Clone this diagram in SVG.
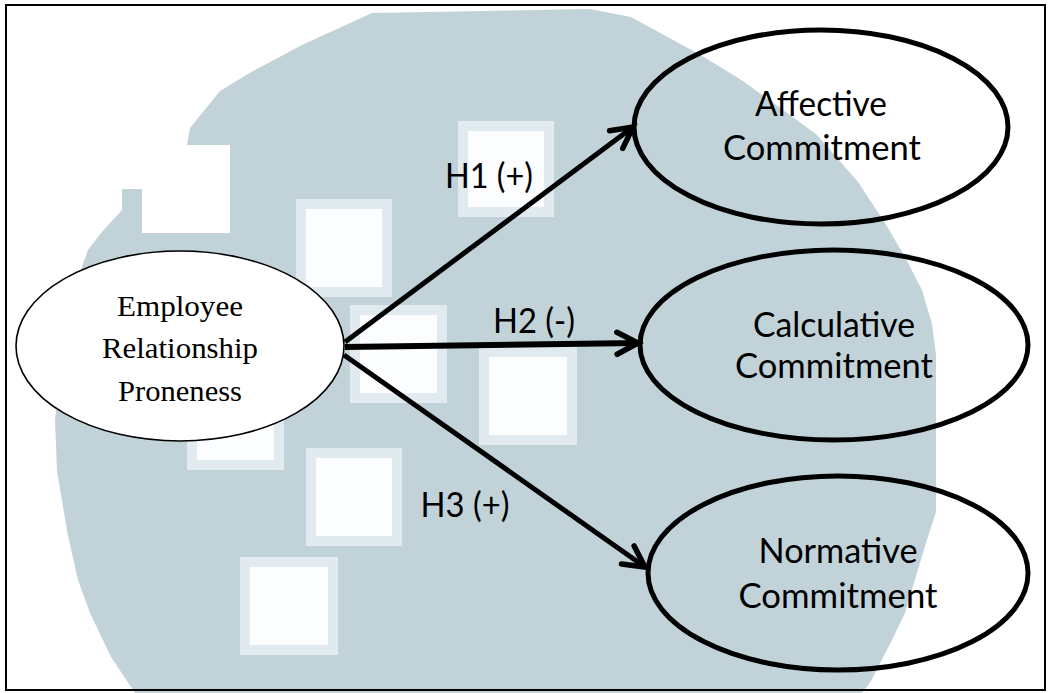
<svg xmlns="http://www.w3.org/2000/svg" width="1049" height="693" viewBox="0 0 1049 693">
  <style>
    .sq-out { fill: #e1eaee; }
    .sq-in { fill: #fbfdfe; }
    .node { fill: none; stroke: #000; stroke-width: 5; }
    .lbl { font-family: Lato, "Open Sans", sans-serif; font-size: 34px; fill: #000; text-anchor: middle; }
    .serif { font-family: "Liberation Serif", "Times New Roman", serif; font-size: 30px; fill: #000; text-anchor: middle; }
    .edge { fill: none; stroke: #000; stroke-width: 5; marker-end: url(#arr); }
  </style>
  <defs>
    <marker id="arr" markerUnits="userSpaceOnUse" markerWidth="40" markerHeight="40" viewBox="-30 -20 40 40" refX="0" refY="0" orient="auto">
      <path d="M-21,-11 L0,0 L-21,11" fill="none" stroke="#000" stroke-width="5.5" stroke-linecap="round" stroke-linejoin="miter"/>
    </marker>
  </defs>
  <rect x="0" y="0" width="1049" height="693" fill="#ffffff"/>
  <g id="watermark">
    <polygon fill="#c1d3d9" points="372,13 590,9 631,17 662,34 699,54 743,81 790,115 817,135 858,182 885,223 905,257 922,290 932,324 936,355 936,512 925,546 905,613 892,640 871,681 862,693 135,693 111,657 90,613 78,580 68,536 57,471 55,420 70,300 88,250 101,233 122,210 122,189 142,189 142,233 230,233 230,145 187,145 190,128 220,91 253,71 304,44"/>
    <rect class="sq-out" x="296" y="199" width="96" height="98"/>
    <rect class="sq-in" x="306" y="209" width="76" height="78"/>
    <rect class="sq-out" x="458" y="121" width="96" height="96"/>
    <rect class="sq-in" x="468" y="131" width="76" height="76"/>
    <rect class="sq-out" x="350" y="305" width="97" height="98"/>
    <rect class="sq-in" x="360" y="315" width="77" height="78"/>
    <rect class="sq-out" x="479" y="347" width="98" height="98"/>
    <rect class="sq-in" x="489" y="357" width="78" height="78"/>
    <rect class="sq-out" x="306" y="448" width="96" height="98"/>
    <rect class="sq-in" x="316" y="458" width="76" height="78"/>
    <rect class="sq-out" x="187" y="373" width="97" height="97"/>
    <rect class="sq-in" x="197" y="383" width="77" height="77"/>
    <rect class="sq-out" x="240" y="557" width="98" height="98"/>
    <rect class="sq-in" x="250" y="567" width="78" height="78"/>
  </g>
  <rect x="6" y="5" width="1039" height="685" fill="none" stroke="#000" stroke-width="2"/>
  <g id="connectors">
    <path class="edge" d="M345,342 L633,127"/>
    <path class="edge" d="M345,347 L638,343" style="stroke-width:6"/>
    <path class="edge" d="M344,355 L645,567"/>
    <text class="lbl" x="489" y="188" textLength="88" lengthAdjust="spacingAndGlyphs">H1 (+)</text>
    <text class="lbl" x="534" y="333" textLength="82" lengthAdjust="spacingAndGlyphs">H2 (-)</text>
    <text class="lbl" x="465" y="517" textLength="89" lengthAdjust="spacingAndGlyphs">H3 (+)</text>
  </g>
  <g id="node-erp">
    <ellipse cx="180" cy="346" rx="164" ry="95" fill="#fff" stroke="#000" stroke-width="1.6"/>
    <text class="serif" x="180" y="316" textLength="126" lengthAdjust="spacingAndGlyphs">Employee</text>
    <text class="serif" x="180" y="358" textLength="156" lengthAdjust="spacingAndGlyphs">Relationship</text>
    <text class="serif" x="180" y="401" textLength="124" lengthAdjust="spacingAndGlyphs">Proneness</text>
  </g>
  <g id="node-affective">
    <ellipse class="node" cx="821" cy="127" rx="187" ry="97"/>
    <text class="lbl" x="821" y="116" textLength="132" lengthAdjust="spacingAndGlyphs">Affective</text>
    <text class="lbl" x="822" y="160" textLength="198" lengthAdjust="spacingAndGlyphs">Commitment</text>
  </g>
  <g id="node-calculative">
    <ellipse class="node" cx="834" cy="345" rx="194" ry="95"/>
    <text class="lbl" x="834" y="337" textLength="162" lengthAdjust="spacingAndGlyphs">Calculative</text>
    <text class="lbl" x="834" y="378" textLength="198" lengthAdjust="spacingAndGlyphs">Commitment</text>
  </g>
  <g id="node-normative">
    <ellipse class="node" cx="838" cy="573" rx="190" ry="97"/>
    <text class="lbl" x="838" y="563" textLength="159" lengthAdjust="spacingAndGlyphs">Normative</text>
    <text class="lbl" x="838" y="608" textLength="199" lengthAdjust="spacingAndGlyphs">Commitment</text>
  </g>
</svg>
